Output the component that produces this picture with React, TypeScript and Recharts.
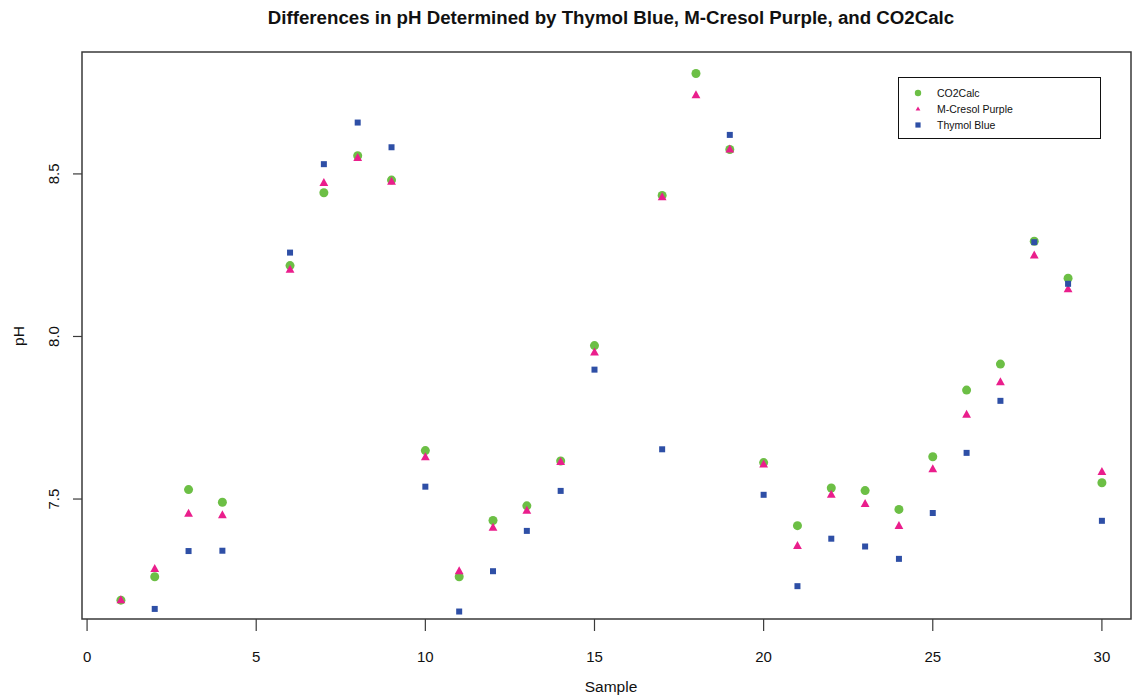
import React from "react";
import {
  ScatterChart,
  Scatter,
  XAxis,
  YAxis,
  ReferenceArea,
} from "recharts";

const samples = [1, 2, 3, 4, 5, 6, 7, 8, 9, 10, 11, 12, 13, 14, 15, 16, 17, 18, 19, 20, 21, 22, 23, 24, 25, 26, 27, 28, 29, 30];
const co2calc = [7.189, 7.261, 7.529, 7.49, null, 8.218, 8.442, 8.556, 8.481, 7.649, 7.261, 7.434, 7.479, 7.617, 7.972, null, 8.434, 8.809, 8.575, 7.612, 7.418, 7.534, 7.526, 7.468, 7.63, 7.835, 7.915, 8.293, 8.179, 7.55];
const mcresol = [7.189, 7.285, 7.455, 7.45, null, 8.205, 8.472, 8.549, 8.476, 7.629, 7.278, 7.412, 7.464, 7.614, 7.951, null, 8.428, 8.742, 8.575, 7.606, 7.356, 7.513, 7.485, 7.417, 7.592, 7.759, 7.859, 8.249, 8.145, 7.583];
const thymol = [null, 7.162, 7.34, 7.341, null, 8.258, 8.53, 8.658, 8.582, 7.538, 7.154, 7.278, 7.402, 7.525, 7.898, null, 7.653, null, 8.62, 7.513, 7.232, 7.378, 7.354, 7.316, 7.457, 7.642, 7.802, 8.29, 8.162, 7.433];

const xTicks = [0, 5, 10, 15, 20, 25, 30];
const yTicks = [7.5, 8.0, 8.5];
const xDomain = [-0.15, 30.86];
const yDomain = [7.131, 8.875];

const seriesNames = ["CO2Calc", "M-Cresol Purple", "Thymol Blue"];
const seriesColors = ["#6cbf45", "#ea1e8c", "#2e4fa6"];

const FONT = "'Liberation Sans', Arial, Helvetica, sans-serif";
const AXIS_COLOR = "#3a3a3a";

const toPoints = (vals: (number | null)[]) =>
  samples
    .map((s, i) => ({ sample: s, ph: vals[i] }))
    .filter((d) => d.ph !== null && d.ph !== undefined);

const circleShape = (color: string, r: number) => (p: any) =>
  <circle cx={p.cx} cy={p.cy} r={r} fill={color} />;
const triangleShape = (color: string, s: number) => (p: any) => {
  const pts = `${p.cx},${p.cy - s * 0.62} ${p.cx - s * 0.55},${p.cy + s * 0.38} ${p.cx + s * 0.55},${p.cy + s * 0.38}`;
  return <polygon points={pts} fill={color} />;
};
const squareShape = (color: string, s: number) => (p: any) =>
  <rect x={p.cx - s / 2} y={p.cy - s / 2} width={s} height={s} fill={color} />;

const legendSymbol = (i: number) => {
  const c = seriesColors[i];
  if (i === 0) return <circle cx={5} cy={5} r={3.2} fill={c} />;
  if (i === 1) return <polygon points="5,2.6 2.6,6.6 7.4,6.6" fill={c} />;
  return <rect x={2.4} y={2.4} width={5.2} height={5.2} fill={c} />;
};

const LegendBox = () => (
  <div
    style={{
      position: "absolute",
      left: 898,
      top: 77,
      width: 203,
      height: 62,
      boxSizing: "border-box",
      border: "1.5px solid #111",
      background: "#fff",
      paddingTop: 7,
      fontFamily: FONT,
      fontSize: 10.5,
      color: "#111",
    }}
  >
    {seriesNames.map((name, i) => (
      <div key={name} style={{ height: 16, lineHeight: "16px", position: "relative" }}>
        <svg width={10} height={10} style={{ position: "absolute", left: 14, top: 3 }}>
          {legendSymbol(i)}
        </svg>
        <span style={{ position: "absolute", left: 38, top: 0 }}>{name}</span>
      </div>
    ))}
  </div>
);

const YTick = (p: any) => {
  const cx = 54;
  return (
    <text
      x={cx}
      y={p.y}
      dy="0.36em"
      textAnchor="middle"
      transform={`rotate(-90, ${cx}, ${p.y})`}
      fontFamily={FONT}
      fontSize={15}
      fill="#111"
    >
      {Number(p.payload.value).toFixed(1)}
    </text>
  );
};

const XTick = (p: any) => (
  <text x={p.x} y={p.y} dy="0.71em" textAnchor="middle" fontFamily={FONT} fontSize={15} fill="#111">
    {p.payload.value}
  </text>
);

export default function App() {
  const d0 = toPoints(co2calc);
  const d1 = toPoints(mcresol);
  const d2 = toPoints(thymol);
  return (
    <div style={{ position: "absolute", left: 0, top: 0, width: 1132, height: 698, background: "#fff" }}>
      <svg width={1132} height={698} style={{ position: "absolute", left: 0, top: 0, pointerEvents: "none" }}>
        <text x={611} y={24} textAnchor="middle" fontFamily={FONT} fontWeight="bold" fontSize={18.7} fill="#111">
          Differences in pH Determined by Thymol Blue, M-Cresol Purple, and CO2Calc
        </text>
        <text x={611} y={692} textAnchor="middle" fontFamily={FONT} fontSize={15.5} fill="#111">
          Sample
        </text>
        <text
          x={18}
          y={336}
          dy="0.36em"
          textAnchor="middle"
          transform="rotate(-90, 18, 336)"
          fontFamily={FONT}
          fontSize={15.5}
          fill="#111"
        >
          pH
        </text>
      </svg>
      <div style={{ position: "absolute", left: 0, top: 0 }}>
        <ScatterChart width={1132} height={698} margin={{ top: 52, right: 1, bottom: 0, left: 22 }}>
          <XAxis
            dataKey="sample"
            type="number"
            domain={xDomain}
            ticks={xTicks}
            allowDataOverflow
            height={79}
            tickSize={12}
            tickMargin={20}
            axisLine={false}
            tickLine={{ stroke: AXIS_COLOR, strokeWidth: 1.2 }}
            tick={<XTick />}
            interval={0}
          />
          <YAxis
            dataKey="ph"
            type="number"
            domain={yDomain}
            ticks={yTicks}
            allowDataOverflow
            width={60}
            tickSize={9}
            axisLine={false}
            tickLine={{ stroke: AXIS_COLOR, strokeWidth: 1.2 }}
            tick={<YTick />}
            interval={0}
          />
          <ReferenceArea
            x1={xDomain[0]}
            x2={xDomain[1]}
            y1={yDomain[0]}
            y2={yDomain[1]}
            fill="none"
            fillOpacity={0}
            stroke={AXIS_COLOR}
            strokeWidth={1.5}
            ifOverflow="visible"
          />
          <Scatter name={seriesNames[0]} data={d0} fill={seriesColors[0]} shape={circleShape(seriesColors[0], 4.5)} isAnimationActive={false} />
          <Scatter name={seriesNames[1]} data={d1} fill={seriesColors[1]} shape={triangleShape(seriesColors[1], 8)} isAnimationActive={false} />
          <Scatter name={seriesNames[2]} data={d2} fill={seriesColors[2]} shape={squareShape(seriesColors[2], 6)} isAnimationActive={false} />
        </ScatterChart>
      </div>
      <LegendBox />
    </div>
  );
}
